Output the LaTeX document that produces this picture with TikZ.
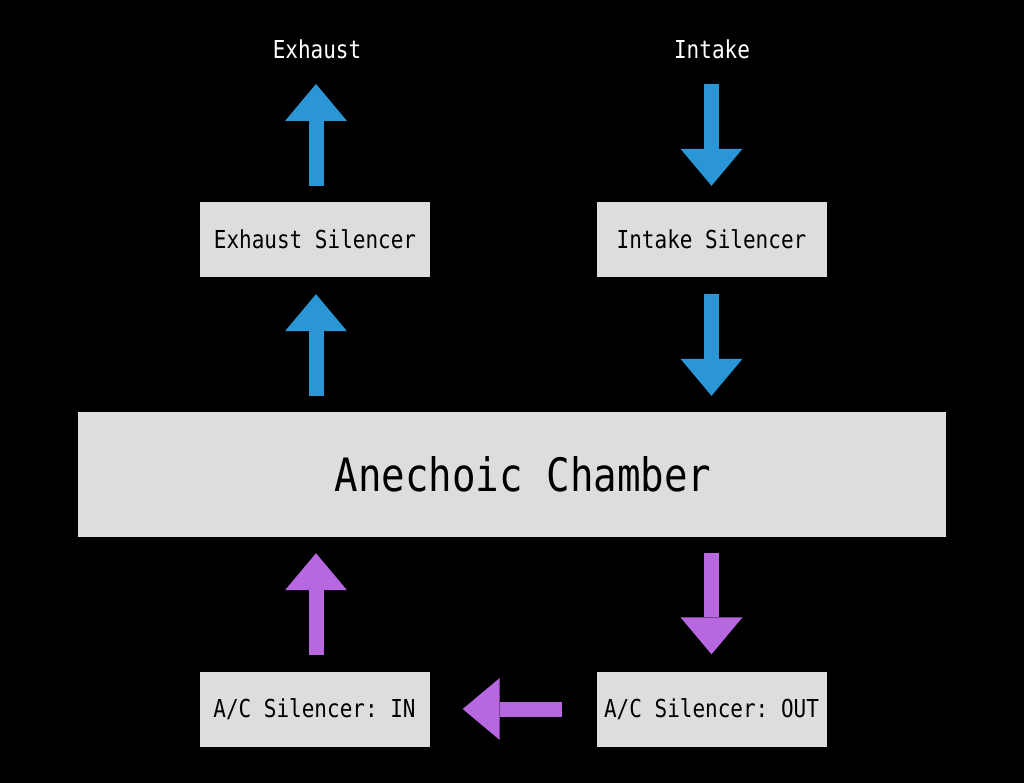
\documentclass[tikz,border=0pt]{standalone}
\usepackage{fontspec}
\setmonofont[FakeStretch=0.85]{DejaVu Sans Mono}
\usetikzlibrary{arrows.meta}
\definecolor{boxgray}{RGB}{220,221,223}
\definecolor{flowblue}{RGB}{43,150,214}
\definecolor{flowpurple}{RGB}{183,104,224}
\tikzset{
  box/.style={fill=boxgray, draw=none, minimum width=230pt, minimum height=75pt, inner sep=0pt,
    font=\ttfamily\fontsize{24.7}{30}\selectfont, text=black},
  toplabel/.style={text=white, inner sep=0pt, font=\ttfamily\fontsize{24.7}{30}\selectfont},
  flow/.style={line width=15pt, -{Triangle[length=37pt,width=62pt,line width=0pt]}},
}
\begin{document}
\begin{tikzpicture}[x=1pt,y=-1pt]
\fill[black] (0,0) rectangle (1024,783);
\useasboundingbox (0,0) rectangle (1024,783);

\node[toplabel] (exl) at (317,49) {Exhaust};
\node[toplabel] (inl) at (712,49) {Intake};
\coordinate (exout) at (316,84);
\coordinate (inin) at (711.5,84);

\node[box] (exs) at (315,239.5) {Exhaust Silencer};
\node[box] (ins) at (711.5,239.5) {Intake Silencer};
\node[box, minimum width=868pt, minimum height=125pt, font=\ttfamily\fontsize{46}{54}\selectfont] (ch) at (512,474.5) {\hspace*{22pt}Anechoic Chamber};
\node[box] (inb) at (314.5,709) {A/C Silencer: IN};
\node[box] (outb) at (711.5,709) {A/C Silencer: OUT};

\draw[flow, flowblue, shorten <=16pt] (exs.north -| exout) -- (exout);
\draw[flow, flowblue, shorten <=16pt, shorten >=17pt] (exout |- ch.north) -- (exout |- exs.south);
\draw[flow, flowblue, shorten >=16pt] (inin) -- (inin |- ins.north);
\draw[flow, flowblue, shorten <=17pt, shorten >=16pt] (inin |- ins.south) -- (inin |- ch.north);

\draw[flow, flowpurple, shorten <=16pt, shorten >=16pt] (exout |- inb.north) -- (exout |- ch.south);
\draw[flow, flowpurple, shorten <=16pt, shorten >=17pt] (inin |- ch.south) -- (inin |- outb.north);
\draw[flow, flowpurple, shorten <=34pt, shorten >=33pt] (outb.west) -- (inb.east);
\end{tikzpicture}
\end{document}
